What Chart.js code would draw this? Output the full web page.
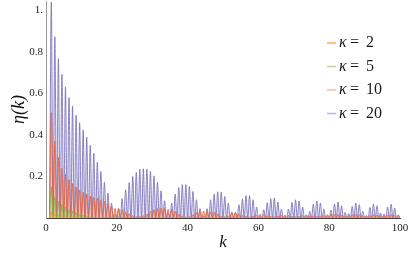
<!DOCTYPE html>
<html>
<head>
<meta charset="utf-8">
<script src="https://cdn.jsdelivr.net/npm/chart.js@4"></script>
<style>
  html, body { margin: 0; padding: 0; background: #fff; }
</style>
</head>
<body>
<canvas id="etaChart" width="416" height="257"></canvas>
<script>
// peak heights of eta(k), one per oscillation (k = 1.5, 2.5, ... 99.5)
const eta20 = [1.04, 0.873, 0.767, 0.692, 0.631, 0.58, 0.539, 0.495, 0.459, 0.424,
  0.389, 0.35, 0.312, 0.269, 0.224, 0.173, 0.12, 0.072, 0.02, 0.045,
  0.093, 0.136, 0.171, 0.2, 0.22, 0.235, 0.237, 0.235, 0.224, 0.203,
  0.171, 0.131, 0.083, 0.025, 0.072, 0.115, 0.147, 0.161, 0.161, 0.152,
  0.128, 0.088, 0.045, 0.01, 0.045, 0.088, 0.115, 0.126, 0.125, 0.104,
  0.072, 0.027, 0.027, 0.064, 0.091, 0.108, 0.107, 0.088, 0.053, 0.01,
  0.04, 0.074, 0.093, 0.096, 0.077, 0.043, 0.01, 0.043, 0.075, 0.088,
  0.082, 0.053, 0.015, 0.032, 0.067, 0.082, 0.072, 0.043, 0.01, 0.038,
  0.068, 0.077, 0.059, 0.027, 0.021, 0.056, 0.072, 0.064, 0.032, 0.012,
  0.051, 0.067, 0.059, 0.024, 0.019, 0.053, 0.067, 0.048, 0.015];
const eta10 = [0.507, 0.37, 0.292, 0.24, 0.21, 0.186, 0.166, 0.15, 0.135, 0.125,
  0.115, 0.106, 0.1, 0.095, 0.088, 0.08, 0.07, 0.057, 0.046, 0.046,
  0.04, 0.03, 0.021, 0.012, 0.006, 0.006, 0.012, 0.02, 0.032, 0.04,
  0.045, 0.048, 0.046, 0.043, 0.04, 0.032, 0.02, 0.01, 0.005, 0.008,
  0.016, 0.027, 0.032, 0.034, 0.032, 0.03, 0.027, 0.02, 0.01, 0.006,
  0.01, 0.027, 0.027, 0.02, 0.012, 0.008, 0.005, 0.01, 0.015, 0.018,
  0.016, 0.012, 0.008, 0.006, 0.01, 0.014, 0.015, 0.012, 0.008, 0.006,
  0.008, 0.012, 0.014, 0.012, 0.01, 0.008, 0.01, 0.014, 0.016, 0.017,
  0.018, 0.017, 0.014, 0.01, 0.012, 0.016, 0.018, 0.016, 0.012, 0.01,
  0.013, 0.016, 0.015, 0.012, 0.011, 0.015, 0.017, 0.015, 0.012];
const eta5 = [0.15, 0.1, 0.08, 0.065, 0.052, 0.042, 0.034, 0.027, 0.02, 0.014,
  0.009, 0.005, 0.003, 0.002, 0.002, 0.003, 0.005, 0.006, 0.006, 0.005,
  0.004, 0.003, 0.002, 0.002, 0.003, 0.004, 0.004, 0.004, 0.003, 0.002,
  0.002, 0.002, 0.003, 0.003, 0.003, 0.003, 0.002, 0.002, 0.002, 0.002,
  0.003, 0.003, 0.003, 0.002, 0.002, 0.002, 0.002, 0.002, 0.003, 0.003,
  0.002, 0.002, 0.002, 0.002, 0.002, 0.002, 0.002, 0.002, 0.002, 0.002,
  0.002, 0.002, 0.002, 0.002, 0.002, 0.002, 0.002, 0.002, 0.002, 0.002,
  0.002, 0.002, 0.002, 0.002, 0.002, 0.002, 0.002, 0.002, 0.002, 0.002,
  0.002, 0.002, 0.002, 0.002, 0.002, 0.002, 0.002, 0.002, 0.002, 0.002,
  0.002, 0.002, 0.002, 0.002, 0.002, 0.002, 0.002, 0.002, 0.002];
const eta2 = [0.03, 0.02, 0.015, 0.012, 0.01, 0.008, 0.007, 0.006, 0.005, 0.004,
  0.004, 0.003, 0.003, 0.003, 0.002, 0.002, 0.002, 0.002, 0.002, 0.002,
  0.002, 0.002, 0.002, 0.002, 0.001, 0.001, 0.001, 0.001, 0.001, 0.001,
  0.001, 0.001, 0.001, 0.001, 0.001, 0.001, 0.001, 0.001, 0.001, 0.001,
  0.001, 0.001, 0.001, 0.001, 0.001, 0.001, 0.001, 0.001, 0.001, 0.001,
  0.001, 0.001, 0.001, 0.001, 0.001, 0.001, 0.001, 0.001, 0.001, 0.001,
  0.001, 0.001, 0.001, 0.001, 0.001, 0.001, 0.001, 0.001, 0.001, 0.001,
  0.001, 0.001, 0.001, 0.001, 0.001, 0.001, 0.001, 0.001, 0.001, 0.001,
  0.001, 0.001, 0.001, 0.001, 0.001, 0.001, 0.001, 0.001, 0.001, 0.001,
  0.001, 0.001, 0.001, 0.001, 0.001, 0.001, 0.001, 0.001, 0.001];

const peakK = eta20.map((_, i) => i + 1.5);
const kappaLabels = ['2', '5', '10', '20'];
const xTicks = [0, 20, 40, 60, 80, 100];
const yTicks = [0.2, 0.4, 0.6, 0.8, 1.0];
const yTickLabels = ['0.2', '0.4', '0.6', '0.8', '1.'];

const lineColors = ['rgba(228,150,40,0.85)', 'rgba(130,175,70,0.85)', 'rgba(234,95,55,0.85)', 'rgba(115,105,182,0.8)'];
const fillColors = ['rgba(240,175,80,0.25)', 'rgba(165,205,115,0.25)', 'rgba(244,140,105,0.28)', 'rgba(170,162,220,0.28)'];
const swatchColors = ['#f2b048', '#bcd49a', '#f5b8a2', '#bab4de'];

const serif = "'Liberation Serif', 'DejaVu Serif', serif";

// each peak becomes a spike that drops back to the axis half a step later
function spikes(values) {
    const pts = [{ x: 1, y: 0 }];
    values.forEach((v, i) => {
        pts.push({ x: peakK[i], y: v });
        pts.push({ x: peakK[i] + 0.5, y: 0 });
    });
    return pts;
}

// legend drawn inside the plot area, like the original
const kappaLegend = {
    id: 'kappaLegend',
    afterDraw(chart) {
        const ctx = chart.ctx;
        ctx.save();
        ctx.textBaseline = 'middle';
        kappaLabels.forEach((lab, i) => {
            const y = 43 + i * 23.5;
            ctx.strokeStyle = swatchColors[i];
            ctx.lineWidth = 1.5;
            ctx.beginPath();
            ctx.moveTo(327, y);
            ctx.lineTo(336, y);
            ctx.stroke();
            ctx.fillStyle = '#1a1a1a';
            ctx.font = 'italic 16px ' + serif;
            ctx.fillText('κ', 339, y);
            ctx.font = '16px ' + serif;
            ctx.fillText('=', 350, y);
            ctx.fillText(lab, 366, y);
        });
        ctx.restore();
    }
};

const seriesValues = [eta2, eta5, eta10, eta20];

new Chart(document.getElementById('etaChart').getContext('2d'), {
    type: 'line',
    data: {
        datasets: seriesValues.map((vals, i) => ({
            label: 'κ = ' + kappaLabels[i],
            data: spikes(vals),
            borderColor: lineColors[i],
            backgroundColor: fillColors[i],
            borderWidth: 1,
            pointRadius: 0,
            fill: 'origin',
            cubicInterpolationMode: 'monotone'
        }))
    },
    options: {
        responsive: false,
        animation: false,
        layout: { padding: { top: 1, right: 16, left: 0, bottom: 0 } },
        plugins: {
            legend: { display: false },
            tooltip: { enabled: false }
        },
        scales: {
            x: {
                type: 'linear',
                min: 0,
                max: 100,
                afterBuildTicks: (scale) => { scale.ticks = xTicks.map(v => ({ value: v })); },
                afterFit: (scale) => { scale.height = 39; },
                grid: { display: false, drawTicks: false },
                border: { display: true, color: '#4a4040', width: 1 },
                ticks: { color: '#222', font: { family: serif, size: 11 }, padding: 4, maxRotation: 0 },
                title: {
                    display: true,
                    text: 'k',
                    color: '#111',
                    font: { family: serif, size: 17, style: 'italic' },
                    padding: { bottom: 4 }
                }
            },
            y: {
                min: 0,
                max: 1.045,
                afterBuildTicks: (scale) => { scale.ticks = yTicks.map(v => ({ value: v })); },
                afterFit: (scale) => {
                    scale.width = 46;
                    scale.paddingTop = 0;
                    scale.paddingBottom = 0;
                },
                grid: { display: false, drawTicks: false },
                border: { display: true, color: '#999', width: 1 },
                ticks: {
                    color: '#222',
                    font: { family: serif, size: 11 },
                    padding: 3,
                    callback: (v) => yTickLabels[yTicks.findIndex(t => Math.abs(t - v) < 1e-6)]
                },
                title: {
                    display: true,
                    text: 'η(k)',
                    color: '#111',
                    font: { family: serif, size: 18, style: 'italic' },
                    padding: { top: 8 }
                }
            }
        }
    },
    plugins: [kappaLegend]
});
</script>
</body>
</html>
